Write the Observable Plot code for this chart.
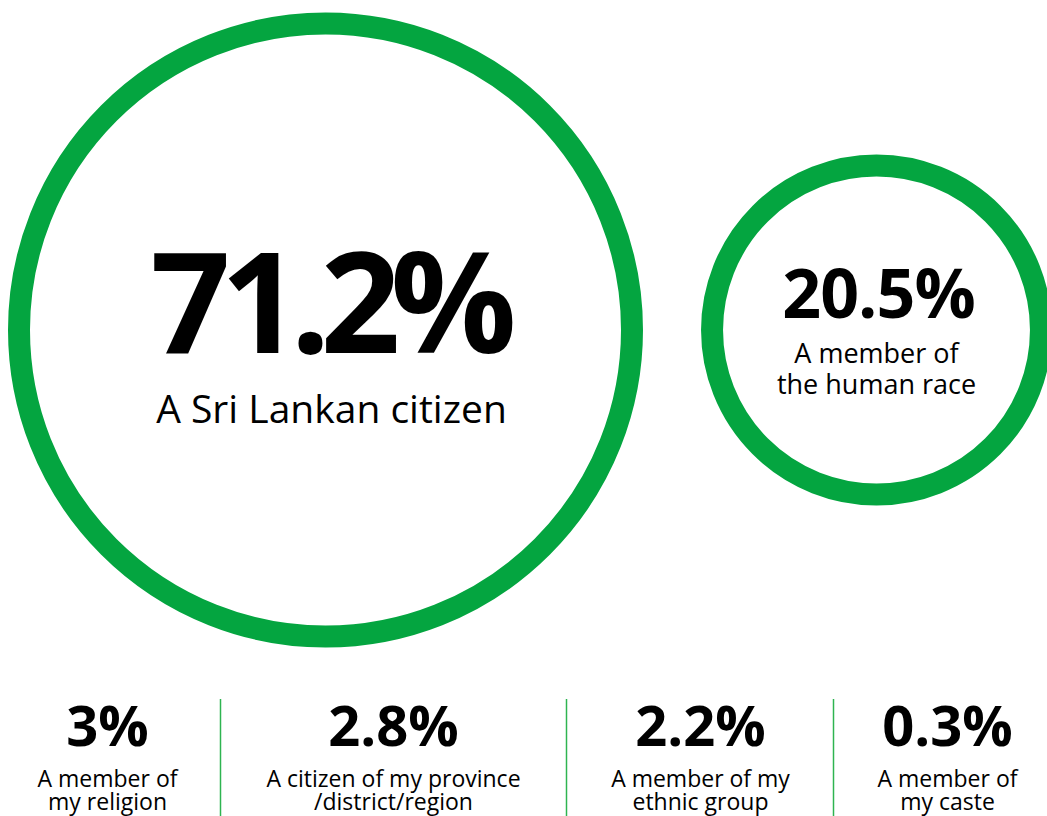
<!DOCTYPE html>
<html>
<head>
<meta charset="utf-8">
<script src="https://cdn.jsdelivr.net/npm/d3@7"></script>
<script src="https://cdn.jsdelivr.net/npm/@observablehq/plot@0.6"></script>
<style>
  html, body { margin: 0; padding: 0; background: #fff; }
  #chart { width: 1047px; }
  #chart svg { display: block; overflow: hidden; }
  #chart g[font-size="140"] text { letter-spacing: -10px; }
  #chart g[font-size="68"] text { letter-spacing: -1px; }
</style>
</head>
<body>
<div id="chart"></div>
<script>
// ---- Data ----
const circleLabels = ["A Sri Lankan citizen", "A member of\nthe human race"];
const circleValues = [71.2, 20.5];

const rowLabels = ["A member of\nmy religion", "A citizen of my province\n/district/region", "A member of my\nethnic group", "A member of\nmy caste"];
const rowValues = [3, 2.8, 2.2, 0.3];

const green = "#04a540";
const font = "'Open Sans', sans-serif";

const circles = circleLabels.map((label, i) => ({label, value: circleValues[i], index: i}));
const rows = rowLabels.map((label, i) => ({label, value: rowValues[i], index: i}));
const fmt = v => `${v}%`;

// ---- Top: proportional circles ----
const topPlot = Plot.plot({
  width: 1047,
  height: 659,
  margin: 0,
  style: {fontFamily: font, color: "#000", background: "#fff"},
  x: {type: "point", domain: circleLabels, range: [325, 876], padding: 0, axis: null},
  r: {type: "sqrt", domain: [0, d3.max(circleValues)], range: [0, 306.5]},
  marks: [
    Plot.dot(circles, {x: "label", r: "value", stroke: green, strokeWidth: 22, fill: "none"}),
    Plot.text(circles.filter(d => d.index === 0), {
      x: "label", text: d => fmt(d.value), fontSize: 140, fontWeight: 700,
      lineAnchor: "bottom", dy: 22.5, dx: 3, fill: "#000"
    }),
    Plot.text(circles.filter(d => d.index === 0), {
      x: "label", text: "label", fontSize: 39,
      lineAnchor: "bottom", dy: 92.5, dx: 6, fill: "#000"
    }),
    Plot.text(circles.filter(d => d.index === 1), {
      x: "label", text: d => fmt(d.value), fontSize: 68, fontWeight: 700,
      lineAnchor: "bottom", dy: -12.5, dx: 2, fill: "#000"
    }),
    Plot.text(circles.filter(d => d.index === 1), {
      x: "label", text: "label", fontSize: 27, lineHeight: 31 / 27,
      lineAnchor: "bottom", dy: 63.5, dx: 0, fill: "#000"
    })
  ]
});

// ---- Bottom: row of small shares ----
const bottomPlot = Plot.plot({
  width: 1047,
  height: 157,
  margin: 0,
  style: {fontFamily: font, color: "#000", background: "#fff"},
  x: {type: "linear", domain: [0, 0.5, 1, 1.5, 2, 2.5, 3], range: [107, 220, 393, 566, 700, 833, 947], axis: null},
  marks: [
    Plot.ruleX(rows.slice(1), {x: d => d.index - 0.5, stroke: "#2eb450", strokeWidth: 1.5, insetTop: 40}),
    Plot.text(rows, {
      x: "index", text: d => fmt(d.value), fontSize: 56, fontWeight: 700,
      frameAnchor: "top", lineAnchor: "bottom", dy: 86, fill: "#000"
    }),
    Plot.text(rows, {
      x: "index", text: "label", fontSize: 23, lineHeight: 1,
      frameAnchor: "top", lineAnchor: "bottom", dy: 150, fill: "#000"
    })
  ]
});

const el = document.getElementById("chart");
el.appendChild(topPlot);
el.appendChild(bottomPlot);
</script>
</body>
</html>
